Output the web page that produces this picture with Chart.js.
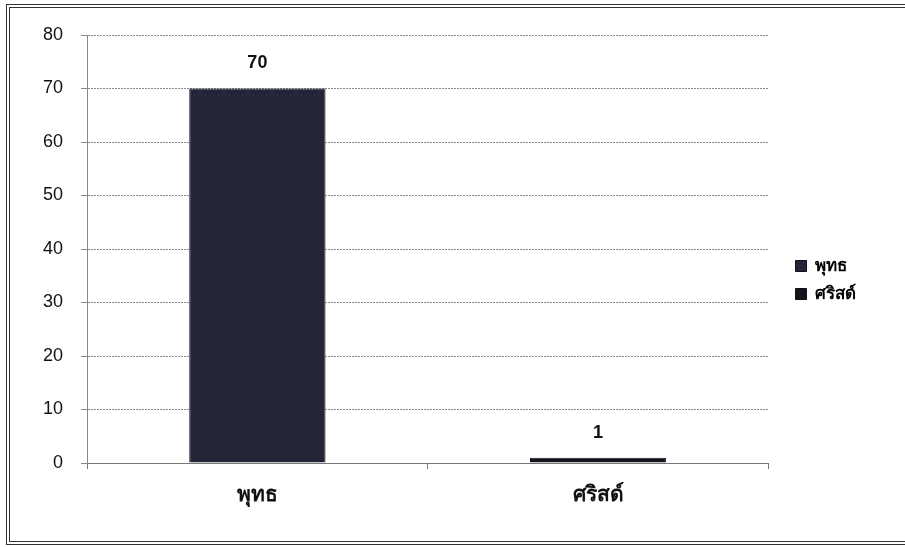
<!DOCTYPE html>
<html>
<head>
<meta charset="utf-8">
<script src="https://cdn.jsdelivr.net/npm/chart.js@4.4.1/dist/chart.umd.min.js"></script>
<style>
    body { margin: 0; background: #fff; }
    .frame {
        position: absolute; left: 6px; top: 4px; width: 910px; height: 533px;
        border-left: 4px double #333; border-top: 4px double #333; border-bottom: 4px double #333;
    }
    .wrap { position: absolute; left: 0; top: 0; width: 905px; height: 547px; }
</style>
</head>
<body>
<div class="frame"></div>
<div class="wrap"><canvas id="religionChart"></canvas></div>
<script>
const categories = ['พุทธ', 'ศริสด์'];
const counts = [70, 1];
const yTicks = [0, 10, 20, 30, 40, 50, 60, 70, 80];

const thaiFont = "'Liberation Sans', 'Noto Sans', sans-serif";

// value labels above each bar
const valueLabels = {
    id: 'valueLabels',
    afterDatasetsDraw(chart) {
        const ctx = chart.ctx;
        const meta = chart.getDatasetMeta(0);
        ctx.save();
        ctx.font = 'bold 18px ' + thaiFont;
        ctx.fillStyle = '#111';
        ctx.textAlign = 'center';
        ctx.textBaseline = 'bottom';
        meta.data.forEach((bar, i) => {
            ctx.fillText(counts[i], bar.x, bar.y - 16);
        });
        ctx.restore();
    }
};

// nudge the legend right and up like the original
const legendShift = {
    id: 'legendShift',
    afterLayout(chart) {
        const lg = chart.legend;
        lg.left += 16;
        lg.right += 40;
        lg.top -= 11;
        lg.bottom -= 11;
    }
};

document.addEventListener('DOMContentLoaded', () => {
    const ctx = document.getElementById('religionChart').getContext('2d');

    new Chart(ctx, {
        type: 'bar',
        data: {
            labels: categories,
            datasets: [{
                label: 'จำนวน',
                data: counts,
                backgroundColor: ['#25253a', '#14141c'],
                borderColor: '#15151d',
                borderWidth: 1,
                barPercentage: 0.4,
                categoryPercentage: 1
            }]
        },
        options: {
            responsive: true,
            maintainAspectRatio: false,
            animation: false,
            layout: {
                padding: { top: 35, right: 55, left: 0, bottom: 0 }
            },
            plugins: {
                tooltip: { enabled: false },
                legend: {
                    position: 'right',
                    align: 'center',
                    labels: {
                        boxWidth: 11,
                        boxHeight: 11,
                        padding: 11,
                        color: '#111',
                        font: { size: 17, weight: 'bold', family: thaiFont },
                        generateLabels(chart) {
                            const ds = chart.data.datasets[0];
                            return categories.map((c, i) => ({
                                text: c,
                                fillStyle: ds.backgroundColor[i],
                                strokeStyle: '#111',
                                lineWidth: 1,
                                index: i,
                                datasetIndex: 0
                            }));
                        }
                    }
                }
            },
            scales: {
                x: {
                    offset: true,
                    afterFit(scale) { scale.height = 84; },
                    grid: {
                        offset: true,
                        drawOnChartArea: false,
                        tickLength: 6,
                        color: '#777'
                    },
                    border: { color: '#777' },
                    ticks: {
                        color: '#111',
                        padding: 14,
                        font: { size: 21, weight: 'bold', family: thaiFont }
                    }
                },
                y: {
                    min: 0,
                    max: 80,
                    afterFit(scale) { scale.width = 87; },
                    afterBuildTicks(scale) {
                        scale.ticks = yTicks.map(v => ({ value: v }));
                    },
                    grid: {
                        color: '#8a8a8a',
                        tickLength: 6,
                        tickColor: '#888'
                    },
                    border: { color: '#888', dash: [2, 1] },
                    ticks: {
                        color: '#111',
                        padding: 18,
                        font: { size: 18, family: thaiFont }
                    }
                }
            }
        },
        plugins: [valueLabels, legendShift]
    });
});
</script>
</body>
</html>
